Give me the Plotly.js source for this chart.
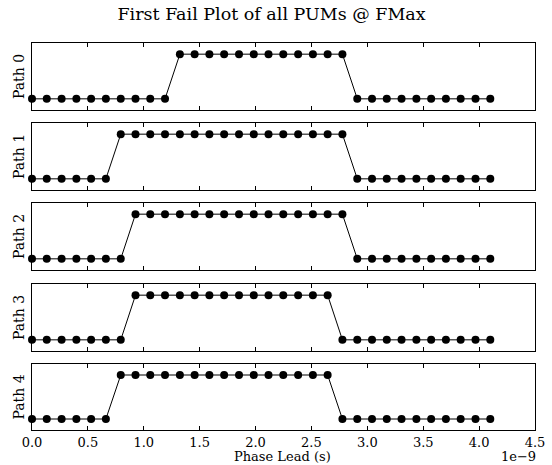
<!DOCTYPE html>
<html>
<head>
<meta charset="utf-8">
<script src="https://cdn.plot.ly/plotly-3.0.1.min.js"></script>
<style>html,body{margin:0;padding:0;background:#fff;}</style>
</head>
<body>
<div id="chart" style="width:552px;height:465px;"></div>
<script>
// Phase lead values, in units of 1e-9 s
var phaseLead = [0.000, 0.132, 0.265, 0.397, 0.529, 0.661, 0.794, 0.926, 1.058, 1.190,
                 1.323, 1.455, 1.587, 1.719, 1.852, 1.984, 2.116, 2.248, 2.381, 2.513,
                 2.645, 2.777, 2.910, 3.042, 3.174, 3.306, 3.439, 3.571, 3.703, 3.835,
                 3.968, 4.100];
var pathNames = ["Path 0", "Path 1", "Path 2", "Path 3", "Path 4"];
var path0 = [0,0,0,0,0,0,0,0,0,0, 1,1,1,1,1,1,1,1,1,1, 1,1,0,0,0,0,0,0,0,0, 0,0];
var path1 = [0,0,0,0,0,0,1,1,1,1, 1,1,1,1,1,1,1,1,1,1, 1,1,0,0,0,0,0,0,0,0, 0,0];
var path2 = [0,0,0,0,0,0,0,1,1,1, 1,1,1,1,1,1,1,1,1,1, 1,1,0,0,0,0,0,0,0,0, 0,0];
var path3 = [0,0,0,0,0,0,0,1,1,1, 1,1,1,1,1,1,1,1,1,1, 1,0,0,0,0,0,0,0,0,0, 0,0];
var path4 = [0,0,0,0,0,0,1,1,1,1, 1,1,1,1,1,1,1,1,1,1, 1,0,0,0,0,0,0,0,0,0, 0,0];
var xTickVals = [0.0, 0.5, 1.0, 1.5, 2.0, 2.5, 3.0, 3.5, 4.0, 4.5];
var series = [path0, path1, path2, path3, path4];

var FONT = "DejaVu Serif";
// pixel boxes of each subplot (top, bottom)
var boxes = [[43,110],[123,190],[203,270],[284,351],[364,430]];
var H = 465, W = 552;

var traces = [];
var layout = {
  width: W, height: H,
  margin: {l:0, r:0, t:0, b:0},
  paper_bgcolor: "#fff", plot_bgcolor: "#fff",
  showlegend: false,
  font: {family: FONT, color: "#000", size: 14},
  title: {text: "First Fail Plot of all PUMs @ FMax", font: {family: FONT, size: 17.5, color: "#000"},
          x: 0.492, xanchor: "center", y: 1 - 14/H, yanchor: "middle", xref: "paper", yref: "paper"},
  annotations: [
    {text: "Phase Lead (s)", xref: "paper", yref: "paper", x: 283/W, y: 1 - 456.5/H,
     xanchor: "center", yanchor: "middle", showarrow: false, borderpad: 0, font: {family: FONT, size: 13}},
    {text: "1e\u22129", xref: "paper", yref: "paper", x: 537/W, y: 1 - 456.5/H,
     xanchor: "right", yanchor: "middle", showarrow: false, borderpad: 0, font: {family: FONT, size: 13}}
  ]
};

for (var i = 0; i < 5; i++) {
  var sfx = i === 0 ? "" : String(i + 1);
  traces.push({
    x: phaseLead, y: series[i], type: "scatter", mode: "lines+markers",
    xaxis: "x" + sfx, yaxis: "y" + sfx,
    line: {color: "#000", width: 1},
    marker: {color: "#000", size: 8, symbol: "circle"},
    cliponaxis: false
  });
  layout["xaxis" + sfx] = {
    domain: [32/W, 535/W],
    range: [0, 4.5],
    anchor: "y" + sfx,
    tickvals: xTickVals,
    tickformat: ".1f",
    ticks: "inside", ticklen: 4, tickwidth: 1, tickcolor: "#000",
    showticklabels: i === 4,
    tickfont: {family: FONT, size: 13, color: "#000"},
    showline: true, linecolor: "#000", linewidth: 1, mirror: "ticks",
    showgrid: false, zeroline: false
  };
  layout["yaxis" + sfx] = {
    domain: [1 - boxes[i][1]/H, 1 - boxes[i][0]/H],
    range: [-0.25, 1.25],
    anchor: "x" + sfx,
    showticklabels: false, ticks: "",
    showline: true, linecolor: "#000", linewidth: 1, mirror: true,
    showgrid: false, zeroline: false,
    title: {text: pathNames[i], font: {family: FONT, size: 14, color: "#000"}, standoff: 3}
  };
}

Plotly.newPlot("chart", traces, layout, {displayModeBar: false, staticPlot: true});
</script>
</body>
</html>
